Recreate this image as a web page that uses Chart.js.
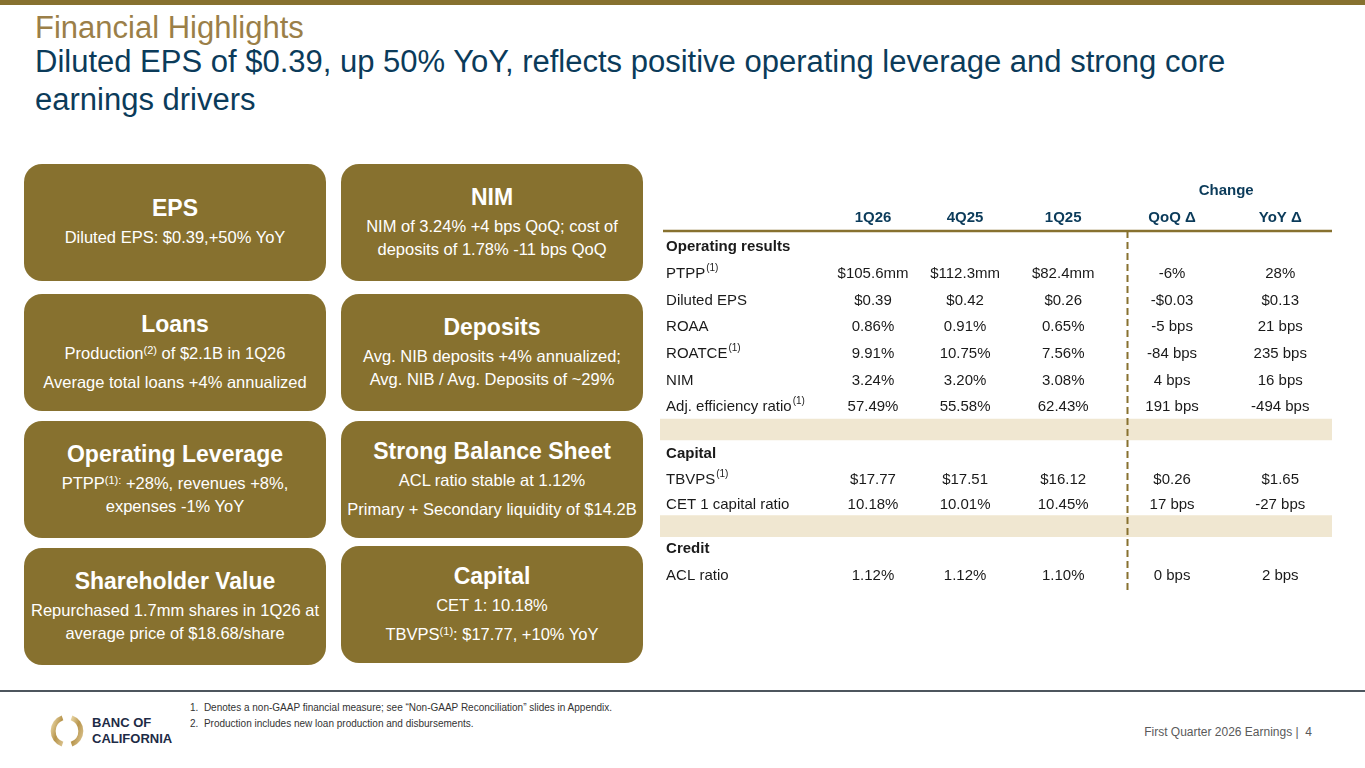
<!DOCTYPE html>
<html>
<head>
<meta charset="utf-8">
<script src="https://cdn.jsdelivr.net/npm/chart.js@4.4.1/dist/chart.umd.min.js"></script>
<style>
  html, body { margin: 0; padding: 0; background: #fff; }
  body { width: 1365px; height: 768px; position: relative; overflow: hidden;
         font-family: "Liberation Sans", Arial, sans-serif; }
  .topbar { position: absolute; left: 0; top: 0; width: 1365px; height: 5px; background: #87712f; }
  .title { position: absolute; left: 35px; top: 11px; font-size: 31px; line-height: 34px; color: #9b7f48; }
  .subtitle { position: absolute; left: 35px; top: 43px; font-size: 31px; line-height: 38px; color: #0b3b5a; }
  .box { position: absolute; width: 302px; height: 117px; background: #87712f; border-radius: 18px;
         color: #fff; display: flex; flex-direction: column; justify-content: center; align-items: center;
         text-align: center; }
  .box h3 { margin: 0 0 4px 0; font-size: 23px; line-height: 27px; font-weight: bold; }
  .box p { margin: 0; font-size: 16.5px; line-height: 23.5px; }
  .box p + p { margin-top: 5px; }
  .box sup { font-size: 11px; line-height: 0; vertical-align: 5px; }
  #tableWrap { position: absolute; left: 655px; top: 175px; width: 690px; height: 425px; }
  .rule { position: absolute; left: 0; top: 690px; width: 1365px; height: 2px; background: #4d565e; }
  .notes { position: absolute; left: 190px; top: 700px; font-size: 10px; line-height: 16px; color: #333; }
  .pageno { position: absolute; right: 53px; top: 725px; font-size: 12px; color: #5a5a5a; }
  .logo { position: absolute; left: 50px; top: 712px; width: 140px; height: 40px; }
  .logo .name { position: absolute; left: 42px; top: 3px; font-size: 13px; line-height: 15.5px;
                font-weight: bold; color: #1d2b46; }
</style>
</head>
<body>
<div class="topbar"></div>
<div class="title">Financial Highlights</div>
<div class="subtitle">Diluted EPS of $0.39, up 50% YoY, reflects positive operating leverage and strong core<br>earnings drivers</div>

<div class="box" style="left:24px; top:164px;">
  <h3>EPS</h3>
  <p>Diluted EPS: $0.39,+50% YoY</p>
</div>
<div class="box" style="left:341px; top:164px;">
  <h3>NIM</h3>
  <p>NIM of 3.24% +4 bps QoQ; cost of<br>deposits of 1.78% -11 bps QoQ</p>
</div>
<div class="box" style="left:24px; top:294px;">
  <h3>Loans</h3>
  <p>Production<sup>(2)</sup> of $2.1B in 1Q26</p>
  <p>Average total loans +4% annualized</p>
</div>
<div class="box" style="left:341px; top:294px;">
  <h3>Deposits</h3>
  <p>Avg. NIB deposits +4% annualized;<br>Avg. NIB / Avg. Deposits of ~29%</p>
</div>
<div class="box" style="left:24px; top:421px;">
  <h3>Operating Leverage</h3>
  <p>PTPP<sup>(1):</sup> +28%, revenues +8%,<br>expenses -1% YoY</p>
</div>
<div class="box" style="left:341px; top:421px;">
  <h3>Strong Balance Sheet</h3>
  <p>ACL ratio stable at 1.12%</p>
  <p>Primary + Secondary liquidity of $14.2B</p>
</div>
<div class="box" style="left:24px; top:548px;">
  <h3>Shareholder Value</h3>
  <p>Repurchased 1.7mm shares in 1Q26 at<br>average price of $18.68/share</p>
</div>
<div class="box" style="left:341px; top:546px;">
  <h3>Capital</h3>
  <p>CET 1: 10.18%</p>
  <p>TBVPS<sup>(1)</sup>: $17.77, +10% YoY</p>
</div>

<div id="tableWrap"><canvas id="tbl"></canvas></div>

<div class="rule"></div>
<div class="logo">
  <svg width="40" height="40" viewBox="0 0 40 40">
    <defs>
      <linearGradient id="gold" x1="0" y1="0" x2="1" y2="1">
        <stop offset="0" stop-color="#e7d3a0"/>
        <stop offset="0.5" stop-color="#b8964e"/>
        <stop offset="1" stop-color="#d9c08a"/>
      </linearGradient>
    </defs>
    <path d="M 12.5 5.8 A 14 14 0 0 0 12.5 32.2" fill="none" stroke="url(#gold)" stroke-width="5"/>
    <path d="M 21.5 5.8 A 14 14 0 0 1 21.5 32.2" fill="none" stroke="url(#gold)" stroke-width="5"/>
  </svg>
  <div class="name">BANC OF<br>CALIFORNIA</div>
</div>
<div class="notes">1.&nbsp; Denotes a non-GAAP financial measure; see “Non-GAAP Reconciliation” slides in Appendix.<br>2.&nbsp; Production includes new loan production and disbursements.</div>
<div class="pageno">First Quarter 2026 Earnings |&nbsp; 4</div>

<script>
// En-têtes de colonnes
var columns = ['1Q26', '4Q25', '1Q25', 'QoQ \u0394', 'YoY \u0394'];
// Lignes du tableau ('' = ligne de séparation grisée)
var rowLabels = ['Operating results', 'PTPP', 'Diluted EPS', 'ROAA', 'ROATCE', 'NIM', 'Adj. efficiency ratio',
  '', 'Capital', 'TBVPS', 'CET 1 capital ratio', '', 'Credit', 'ACL ratio'];
var rowNotes = ['', '1', '', '', '1', '', '1', '', '', '1', '', '', '', ''];
var sectionRows = ['Operating results', 'Capital', 'Credit'];
// Valeurs par période
var val1Q26 = ['', '$105.6mm', '$0.39', '0.86%', '9.91%', '3.24%', '57.49%', '', '', '$17.77', '10.18%', '', '', '1.12%'];
var val4Q25 = ['', '$112.3mm', '$0.42', '0.91%', '10.75%', '3.20%', '55.58%', '', '', '$17.51', '10.01%', '', '', '1.12%'];
var val1Q25 = ['', '$82.4mm', '$0.26', '0.65%', '7.56%', '3.08%', '62.43%', '', '', '$16.12', '10.45%', '', '', '1.10%'];
var valQoQ = ['', '-6%', '-$0.03', '-5 bps', '-84 bps', '4 bps', '191 bps', '', '', '$0.26', '17 bps', '', '', '0 bps'];
var valYoY = ['', '28%', '$0.13', '21 bps', '235 bps', '16 bps', '-494 bps', '', '', '$1.65', '-27 bps', '', '', '2 bps'];

// Mise en page : hauteur relative de chaque ligne, position des colonnes (fraction de la largeur)
var rowHeights = [1, 1, 1, 1, 1, 1, 1, 0.75, 1, 0.95, 0.95, 0.7, 0.95, 1.1];
var labelPos = 0.009;
var colCenters = [0.317, 0.454, 0.600, 0.762, 0.923];
var dividerPos = 0.695;
var gold = '#87712f';
var navy = '#0b3b5a';
var font = '"Liberation Sans", Arial, sans-serif';

var cells = [val1Q26, val4Q25, val1Q25, valQoQ, valYoY];

// centre de chaque ligne en unités de ligne (la première ligne est à 0)
var rowCenters = [];
var acc = -0.5;
rowHeights.forEach(function(h) {
  rowCenters.push(acc + h / 2);
  acc += h;
});
var yMax = acc;

var tablePlugin = {
  id: 'tablePlugin',
  afterDatasetsDraw: function(chart) {
    var ctx = chart.ctx;
    var x = chart.scales.x;
    var y = chart.scales.y;
    var area = chart.chartArea;
    ctx.save();
    // ligne sous les en-têtes
    ctx.strokeStyle = gold;
    ctx.lineWidth = 2.5;
    ctx.beginPath();
    ctx.moveTo(area.left + 3, area.top - 2);
    ctx.lineTo(area.right, area.top - 2);
    ctx.stroke();
    // séparateur pointillé
    var dx = Math.round(x.getPixelForValue(dividerPos)) + 0.5;
    ctx.lineWidth = 2;
    ctx.setLineDash([7, 4]);
    ctx.beginPath();
    ctx.moveTo(dx, area.top - 2);
    ctx.lineTo(dx, area.bottom);
    ctx.stroke();
    ctx.setLineDash([]);
    // en-têtes
    ctx.fillStyle = navy;
    ctx.font = 'bold 15px ' + font;
    ctx.textAlign = 'center';
    ctx.textBaseline = 'middle';
    columns.forEach(function(c, j) {
      ctx.fillText(c, x.getPixelForValue(colCenters[j]), area.top - 15);
    });
    ctx.fillText('Change', (x.getPixelForValue(colCenters[3]) + x.getPixelForValue(colCenters[4])) / 2, area.top - 42);
    // cellules
    rowLabels.forEach(function(label, i) {
      var py = y.getPixelForValue(rowCenters[i]) + 1;
      ctx.fillStyle = '#1a1a1a';
      ctx.textAlign = 'left';
      if (sectionRows.indexOf(label) >= 0) {
        ctx.font = 'bold 15px ' + font;
      } else {
        ctx.font = '15px ' + font;
      }
      var lx = x.getPixelForValue(labelPos);
      ctx.fillText(label, lx, py);
      if (rowNotes[i]) {
        var w = ctx.measureText(label).width;
        ctx.font = '10px ' + font;
        ctx.fillText('(' + rowNotes[i] + ')', lx + w + 1, py - 6);
      }
      ctx.font = '15px ' + font;
      ctx.textAlign = 'center';
      cells.forEach(function(col, j) {
        if (col[i]) {
          ctx.fillText(col[i], x.getPixelForValue(colCenters[j]), py);
        }
      });
    });
    ctx.restore();
  }
};

// bandes grisées des lignes de séparation
var bands = [];
rowLabels.forEach(function(l, i) {
  if (l === '') {
    bands.push({ y: rowCenters[i], x: [0, 1] });
  }
});

new Chart(document.getElementById('tbl'), {
  type: 'bar',
  data: {
    datasets: [{
      data: bands,
      backgroundColor: '#f0e7d1',
      borderWidth: 0,
      barThickness: 21
    }]
  },
  options: {
    indexAxis: 'y',
    responsive: true,
    maintainAspectRatio: false,
    animation: false,
    layout: { padding: { left: 5, right: 13, top: 58, bottom: 10 } },
    plugins: { legend: { display: false }, tooltip: { enabled: false } },
    scales: {
      x: { type: 'linear', min: 0, max: 1, display: false },
      y: { type: 'linear', min: -0.5, max: yMax, reverse: true, offset: false, display: false }
    }
  },
  plugins: [tablePlugin]
});
</script>
</body>
</html>
